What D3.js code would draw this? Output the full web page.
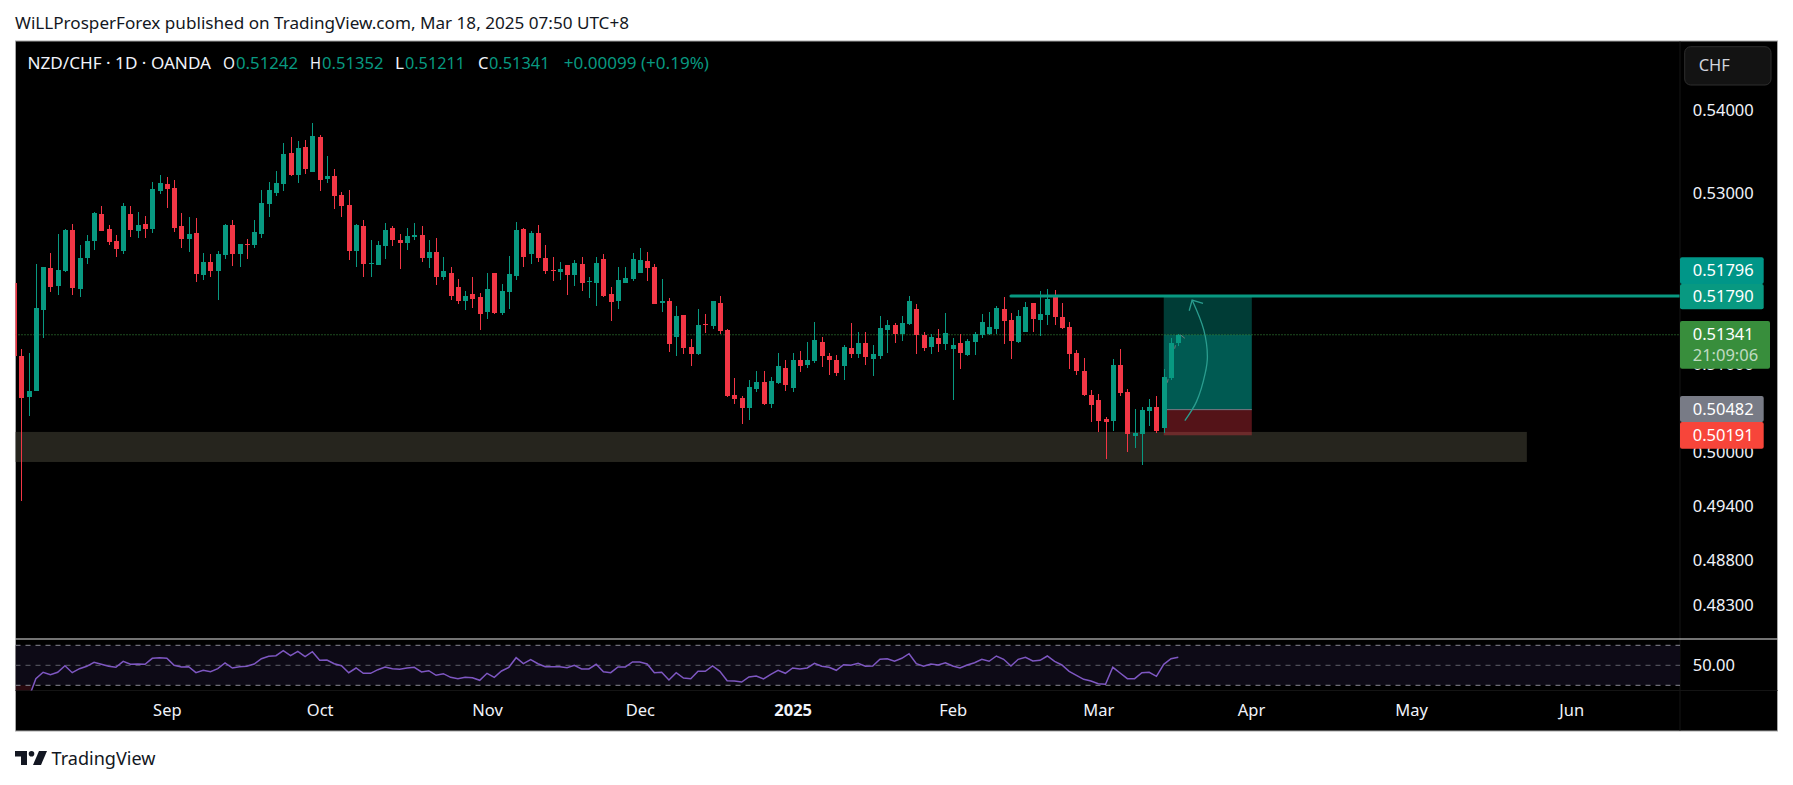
<!DOCTYPE html>
<html>
<head>
<meta charset="utf-8">
<script src="https://cdn.jsdelivr.net/npm/d3@7"></script>
<style>
html,body{margin:0;padding:0;background:#fff}
svg{display:block}
text{font-family:"Noto Sans",sans-serif}
</style>
</head>
<body>
<svg id="c" width="1793" height="785"></svg>
<script>
// Candles run from index -1 (cut off by the left edge) to 159
const opens = [.51940,
.51096,.50626,.50695,.51628,.52120,.51908,.52084,.52568,.51873,.52237,
.52438,.52758,.52580,.52438,.52319,.52758,.52556,.52640,.52580,.53032,
.53116,.53068,.52616,.52462,.52533,.52037,.52190,.52084,.52272,.52628,
.52284,.52402,.52390,.52521,.52876,.53008,.53116,.53488,.53224,.53560,
.53260,.53681,.53176,.53212,.52984,.52865,.52319,.52616,.52167,.52155,
.52378,.52592,.52450,.52414,.52485,.52509,.52237,.52308,.52014,.52061,
.51896,.51732,.51814,.51779,.51605,.52061,.51593,.51838,.52025,.52580,
.52284,.52533,.52237,.52096,.52073,.52155,.52037,.52167,.51955,.51944,
.52225,.51814,.51732,.51944,.51990,.52061,.52202,.52131,.51709,.51732,
.51316,.51570,.51200,.51119,.51466,.51443,.51709,.51397,.50649,.50615,
.50502,.50718,.50798,.50547,.50787,.50959,.50730,.51050,.50993,.51039,
.51258,.51096,.51050,.50982,.51188,.51119,.51246,.51062,.51096,.51397,
.51454,.51350,.51466,.51640,.51339,.51200,.51304,.51235,.51177,.51246,
.51108,.51258,.51339,.51350,.51408,.51640,.51512,.51258,.51374,.51709,
.51512,.51570,.51779,.51547,.51431,.51131,.50924,.50649,.50592,.50377,
.50354,.50993,.50684,.50184,.50206,.50468,.50513,.50274,.50844,.51242];
const closes = [.51096,
.50615,.50695,.51651,.52131,.51896,.52096,.52568,.51885,.52237,.52438,
.52770,.52556,.52426,.52343,.52853,.52568,.52628,.52580,.53056,.53128,
.53056,.52592,.52462,.52521,.52049,.52190,.52084,.52284,.52628,.52284,
.52402,.52390,.52545,.52888,.53044,.53128,.53476,.53224,.53548,.53296,
.53693,.53164,.53212,.52972,.52853,.52319,.52628,.52167,.52178,.52390,
.52568,.52450,.52414,.52497,.52509,.52237,.52308,.52014,.52084,.51791,
.51732,.51791,.51756,.51582,.51873,.51593,.51849,.52049,.52568,.52249,
.52533,.52237,.52084,.52084,.52108,.52037,.52178,.51944,.51967,.52178,
.51791,.51721,.51979,.52002,.52225,.52214,.52120,.51698,.51732,.51235,
.51559,.51188,.51119,.51454,.51454,.51732,.51385,.50638,.50604,.50502,
.50741,.50798,.50547,.50810,.50982,.50764,.51050,.50982,.51050,.51281,
.51096,.51050,.50902,.51200,.51119,.51246,.51085,.51119,.51420,.51454,
.51350,.51478,.51732,.51339,.51188,.51316,.51235,.51362,.51223,.51131,
.51269,.51350,.51489,.51431,.51651,.51501,.51269,.51559,.51663,.51524,
.51582,.51756,.51547,.51420,.51119,.50924,.50649,.50536,.50354,.50342,
.50993,.50672,.50206,.50218,.50479,.50513,.50240,.50856,.51246,.51341];
const highs = [.51960,
.51177,.51131,.52167,.52131,.52296,.52521,.52580,.52640,.52390,.52509,
.52781,.52853,.52628,.52509,.52888,.52853,.52781,.52734,.53140,.53224,
.53200,.53164,.52770,.52722,.52710,.52296,.52284,.52319,.52640,.52687,
.52402,.52462,.52687,.53044,.53140,.53272,.53609,.53681,.53633,.53645,
.53851,.53706,.53452,.53296,.53020,.53044,.52640,.52687,.52450,.52438,
.52651,.52616,.52521,.52592,.52651,.52616,.52450,.52473,.52249,.52131,
.51990,.51849,.52014,.51826,.52061,.52061,.51932,.52261,.52663,.52592,
.52556,.52628,.52390,.52249,.52190,.52155,.52214,.52249,.52014,.52249,
.52284,.51896,.52131,.52131,.52296,.52355,.52308,.52167,.51990,.51767,
.51674,.51570,.51293,.51640,.51582,.51732,.51791,.51408,.50844,.50638,
.50821,.50924,.50924,.50856,.51131,.51050,.51131,.51154,.51258,.51489,
.51316,.51131,.51108,.51223,.51478,.51374,.51374,.51223,.51559,.51512,
.51478,.51559,.51791,.51698,.51374,.51350,.51408,.51593,.51304,.51350,
.51293,.51374,.51582,.51605,.51674,.51779,.51593,.51628,.51721,.51709,
.51849,.51873,.51861,.51709,.51489,.51165,.51073,.50707,.50661,.50399,
.51062,.51177,.50718,.50490,.50513,.50604,.50638,.50947,.51304,.51352];
const lows = [.51080,
.49454,.50411,.50695,.51304,.51838,.51803,.52073,.51803,.51779,.52167,
.52331,.52556,.52390,.52249,.52284,.52485,.52473,.52473,.52533,.52996,
.52829,.52545,.52355,.52308,.51955,.51979,.52014,.51744,.52225,.52143,
.52131,.52225,.52355,.52473,.52722,.52972,.53032,.53212,.53128,.53236,
.53260,.53032,.53128,.52817,.52722,.52214,.52131,.52014,.52014,.52155,
.52225,.52378,.52108,.52331,.52450,.52190,.52120,.51920,.51979,.51744,
.51698,.51628,.51651,.51397,.51524,.51582,.51570,.51640,.51979,.52131,
.52167,.52190,.52049,.51967,.51979,.51803,.51908,.51849,.51767,.51674,
.51779,.51501,.51640,.51944,.51967,.52061,.51967,.51698,.51605,.51142,
.51096,.51119,.50982,.51108,.51362,.51408,.51350,.50626,.50547,.50320,
.50365,.50684,.50536,.50502,.50775,.50695,.50684,.50913,.50959,.51016,
.50970,.50879,.50867,.50821,.51073,.51073,.50993,.50867,.51062,.51131,
.51246,.51269,.51454,.51119,.51154,.51119,.51142,.51165,.50592,.50947,
.51096,.51108,.51304,.51339,.51350,.51235,.51062,.51246,.51374,.51374,
.51327,.51454,.51454,.51408,.50947,.50879,.50638,.50342,.50229,.49924,
.50240,.50638,.50002,.50048,.49857,.50297,.50218,.50218,.50821,.51211];
// RSI from index 1 to 159
const rsi = [17,36.6,43,40.6,43,49.6,42.6,46.6,49,53,
51,49,48,54,51,51.3,51,57,57.6,57,
50,48.3,48.6,42.6,45,43.6,46.6,52.3,47.3,48.6,
49,51.3,56.6,59,59.6,64.6,59.6,64,58.6,63.6,
55,55.3,51.6,49.6,42.6,47.3,42,42,45.6,48.3,
46.6,46,47.3,48,43.3,44.6,40,41.6,38,36.6,
38,37.6,35,42,38,44.3,48,57.6,51.6,55.6,
51.6,48.6,48.6,48.6,47.6,50,46.3,46.3,51,43.6,
42.6,48.3,48.3,53.3,53.3,51.3,42.6,43,35.3,42.6,
37.3,36.6,44,44,49.3,44,34.6,34.3,33.3,38.3,
39.3,36.3,41,45,42,47.3,46.3,47.3,52,49,
48,45,50.6,50,52,49,49.3,56,56.6,54,
57,61.6,51.6,49,51.3,50.3,52.6,49.3,47.3,50.3,
52.6,56,54,59.3,56,49.3,56,58,54.3,55,
59.3,54,50.3,44,40,36,34.3,31.6,31,48,
42.3,36.6,36.6,42.6,43,39,51,56.6,58];

const priceTicks = [0.54,0.53,0.51,0.50,0.494,0.488,0.483];
const monthIndex = [20,41,64,85,106,128,148,169,191,213];
const monthLabels = ["Sep","Oct","Nov","Dec","2025","Feb","Mar","Apr","May","Jun"];

const resistance = 0.5179, lastPrice = 0.51341;
const targetPrice = 0.51796, entryPrice = 0.50482, stopPrice = 0.50191;
const zoneTop = 0.50229, zoneBottom = 0.4989;
const arrowIdx = [159.9,161.5,162.7,163.0,162.5,160.9];
const arrowPrice = [.50357,.50573,.50898,.51088,.51397,.51744];
const headIdx = [160.5,160.9,162.4];
const headPrice = [.51620,.51744,.51706];
const faintIdx = [[157.5,157.6],[158.5,158.6],[159.3,159.9]];
const faintPrice = [[.50790,.50830],[.51180,.51220],[.51340,.51300]];

const GREEN="#089981", RED="#f23645";
const L=15.5,R=1777.5,T=41,B=731,PA=1680,MID=639,RB=690.5;

const svg=d3.select("#c");
const x=d3.scaleLinear().domain([0,159]).range([21.3,1178.3]);
const y=d3.scaleLog().domain([0.54,0.483]).range([110.7,605.7]);
const yR=d3.scaleLinear().domain([70,30]).range([645.3,685.3]);

const defs=svg.append("defs");
defs.append("clipPath").attr("id","main").append("rect").attr("x",L).attr("y",T).attr("width",PA-L).attr("height",MID-T);
defs.append("clipPath").attr("id","rsi").append("rect").attr("x",L).attr("y",MID+1).attr("width",PA-L).attr("height",RB-MID-1);

svg.append("rect").attr("width",1793).attr("height",785).attr("fill","#fff");
svg.append("text").attr("x",15).attr("y",29).attr("font-size",16).attr("fill","#131722")
  .attr("textLength",614).attr("lengthAdjust","spacingAndGlyphs")
  .text("WiLLProsperForex published on TradingView.com, Mar 18, 2025 07:50 UTC+8");

svg.append("rect").attr("x",L).attr("y",T).attr("width",R-L).attr("height",B-T).attr("fill","#000").attr("stroke","#a6a6a6").attr("stroke-width",1);

// Main pane
const g=svg.append("g").attr("clip-path","url(#main)");
g.append("rect").attr("x",L).attr("width",x(206.9)-L).attr("y",y(zoneTop)).attr("height",y(zoneBottom)-y(zoneTop)).attr("fill","#26251e");

const bx0=x(157),bw=x(169.1)-x(157);
g.append("rect").attr("x",bx0).attr("width",bw).attr("y",y(targetPrice)).attr("height",y(lastPrice)-y(targetPrice)).attr("fill","#009688").attr("fill-opacity",.4);
g.append("rect").attr("x",bx0).attr("width",bw).attr("y",y(lastPrice)).attr("height",y(entryPrice)-y(lastPrice)).attr("fill","#009688").attr("fill-opacity",.6);
g.append("rect").attr("x",bx0).attr("width",bw).attr("y",y(entryPrice)).attr("height",y(stopPrice)-y(entryPrice)).attr("fill",RED).attr("fill-opacity",.35);
g.append("line").attr("x1",bx0).attr("x2",bx0+bw).attr("y1",y(entryPrice)).attr("y2",y(entryPrice)).attr("stroke","#787b86").attr("stroke-width",1);

g.append("line").attr("x1",L).attr("x2",PA).attr("y1",y(lastPrice)).attr("y2",y(lastPrice))
  .attr("stroke","#3c9a3f").attr("stroke-width",1).attr("stroke-dasharray","1 2");

const pts=d3.range(opens.length).map(i=>({i:i-1,o:opens[i],c:closes[i],h:highs[i],l:lows[i]}));
const col=d=>d.c>=d.o?GREEN:RED;
const cg=g.append("g").attr("shape-rendering","crispEdges");
cg.selectAll("line").data(pts).join("line")
  .attr("x1",d=>Math.round(x(d.i))+.5).attr("x2",d=>Math.round(x(d.i))+.5)
  .attr("y1",d=>y(d.h)).attr("y2",d=>y(d.l)).attr("stroke",col).attr("stroke-width",1);
cg.selectAll("rect").data(pts).join("rect")
  .attr("x",d=>Math.round(x(d.i))-2).attr("width",5)
  .attr("y",d=>y(Math.max(d.o,d.c))).attr("height",d=>Math.max(1,y(Math.min(d.o,d.c))-y(Math.max(d.o,d.c))))
  .attr("fill",col);

const curve=d3.line().curve(d3.curveCatmullRom).x(d=>x(d[0])).y(d=>y(d[1]));
g.append("path").attr("d",curve(arrowIdx.map((v,i)=>[v,arrowPrice[i]]))).attr("fill","none").attr("stroke","#2a9d8f").attr("stroke-width",1.3);
g.append("path").attr("d",d3.line().x(d=>x(d[0])).y(d=>y(d[1]))(headIdx.map((v,i)=>[v,headPrice[i]]))).attr("fill","none").attr("stroke","#2a9d8f").attr("stroke-width",1.3);
faintIdx.forEach((f,i)=>g.append("line").attr("x1",x(f[0])).attr("x2",x(f[1])).attr("y1",y(faintPrice[i][0])).attr("y2",y(faintPrice[i][1])).attr("stroke","#6f7a7a").attr("stroke-width",1));

g.append("line").attr("x1",x(136)).attr("x2",PA).attr("y1",y(resistance)).attr("y2",y(resistance))
  .attr("stroke",GREEN).attr("stroke-width",3).attr("stroke-linecap","round");

// Legend
const lg=svg.append("g").attr("font-size",15.5);
[["NZD/CHF · 1D · OANDA",27.5,183.5,"#f0f3fa"],["O",223,12,"#f0f3fa"],["0.51242",236,62,GREEN],["H",310,11,"#f0f3fa"],["0.51352",322,61.5,GREEN],
 ["L",395,9,"#f0f3fa"],["0.51211",405,60,GREEN],["C",478,10.5,"#f0f3fa"],["0.51341",489,60.5,GREEN],["+0.00099 (+0.19%)",563.7,145.3,GREEN]]
 .forEach(t=>lg.append("text").attr("x",t[1]).attr("y",69).attr("textLength",t[2]).attr("lengthAdjust","spacingAndGlyphs").attr("fill",t[3]).text(t[0]));

// Price axis
const axY=svg.append("g").attr("transform",`translate(${PA},0)`)
  .call(d3.axisRight(y).tickValues(priceTicks).tickFormat(d3.format(".5f")).tickSize(0).tickPadding(12.7));
axY.select(".domain").remove();
axY.selectAll("text").attr("font-size",16.5).attr("fill","#f0f3fa").style("font-family",'"Noto Sans",sans-serif');

svg.append("line").attr("x1",PA).attr("x2",PA).attr("y1",T+.5).attr("y2",B-.5).attr("stroke","#141414");
svg.append("line").attr("x1",L).attr("x2",R).attr("y1",RB).attr("y2",RB).attr("stroke","#141414");

// Price labels
const tags=[
 {p:targetPrice,t:257.3,b:284,w:83.7,f:"#009688"},
 {p:resistance,t:284,b:309.3,w:83.7,f:GREEN},
 {p:entryPrice,t:396,b:422,w:83.7,f:"#787b86"},
 {p:stopPrice,t:422,b:448.7,w:83.7,f:"#f7453a"}];
tags.forEach(d=>{
  svg.append("rect").attr("x",PA).attr("y",d.t).attr("width",d.w).attr("height",d.b-d.t).attr("rx",2).attr("fill",d.f);
  svg.append("text").attr("x",1692.7).attr("y",(d.t+d.b)/2+5.5).attr("font-size",16.5).attr("fill","#fff").text(d3.format(".5f")(d.p));
});
svg.append("rect").attr("x",PA).attr("y",321).attr("width",90).attr("height",47.7).attr("rx",2).attr("fill","#388e3c");
svg.append("text").attr("x",1692.7).attr("y",340).attr("font-size",16.5).attr("fill","#fff").text(d3.format(".5f")(lastPrice));
svg.append("text").attr("x",1692.7).attr("y",361).attr("font-size",16.5).attr("fill","#fff").attr("fill-opacity",.7).text("21:09:06");

svg.append("rect").attr("x",1684.7).attr("y",46.7).attr("width",86.3).attr("height",38.3).attr("rx",6).attr("fill","#131313").attr("stroke","#2e2e2e");
svg.append("text").attr("x",1698.7).attr("y",71).attr("font-size",16.5).attr("fill","#d1d4dc").text("CHF");

// Divider + RSI pane
svg.append("line").attr("x1",L).attr("x2",R).attr("y1",MID).attr("y2",MID).attr("stroke","#e6e6e6").attr("stroke-width",1.2);
const rg=svg.append("g").attr("clip-path","url(#rsi)");
rg.append("rect").attr("x",L).attr("width",PA-L).attr("y",yR(70)).attr("height",yR(30)-yR(70)).attr("fill","#0d0a16");
rg.append("rect").attr("x",L).attr("width",x(1.4)-L).attr("y",yR(30)).attr("height",RB-yR(30)).attr("fill","#2a0a10");
[70,50,30].forEach(v=>rg.append("line").attr("x1",L).attr("x2",PA).attr("y1",yR(v)).attr("y2",yR(v))
  .attr("stroke",v===50?"#5f606a":"#8a8a94").attr("stroke-dasharray","5 5").attr("stroke-width",1));
rg.append("path").datum(rsi).attr("fill","none").attr("stroke","#7e57c2").attr("stroke-width",1.5)
  .attr("d",d3.line().x((d,i)=>x(i+1)).y(d=>yR(d)));

const axR=svg.append("g").attr("transform",`translate(${PA},0)`)
  .call(d3.axisRight(yR).tickValues([50]).tickFormat(d3.format(".2f")).tickSize(0).tickPadding(12.7));
axR.select(".domain").remove();
axR.selectAll("text").attr("font-size",16.5).attr("fill","#f0f3fa").style("font-family",'"Noto Sans",sans-serif');

// Time axis
const axX=svg.append("g").attr("transform","translate(0,699.5)")
  .call(d3.axisBottom(x).tickValues(monthIndex).tickFormat((d,i)=>monthLabels[i]).tickSize(0).tickPadding(0));
axX.select(".domain").remove();
axX.selectAll("text").attr("font-size",16.5).attr("fill","#f0f3fa").attr("dy","1em").style("font-family",'"Noto Sans",sans-serif');
axX.selectAll(".tick").filter((d,i)=>monthLabels[i]==="2025").select("text").attr("font-weight",700);

// Footer brand
const lo=svg.append("g").attr("fill","#131722");
lo.append("path").attr("d","M15 751H27V765H21V756.5H15Z");
lo.append("circle").attr("cx",31.5).attr("cy",753.7).attr("r",2.8);
lo.append("path").attr("d","M39 751H47L41 765H33Z");
svg.append("text").attr("x",51.5).attr("y",764.5).attr("font-size",18).attr("fill","#131722")
  .attr("textLength",104).attr("lengthAdjust","spacingAndGlyphs").text("TradingView");
</script>
</body>
</html>
